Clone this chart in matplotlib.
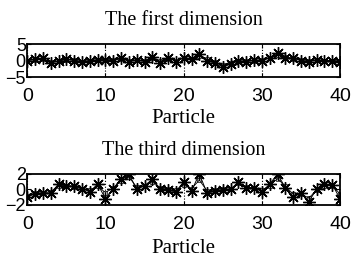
import matplotlib.pyplot as plt

particles = list(range(41))

# first dimension: star series and square series
dim1_star = [0, 0.5, 0.7, -0.8, 0, 0.5, 0, -0.5, 0, 0.2, 0.2, 0, 0.7, -0.3, 0.2, -0.3,
             1.2, -0.6, 0.9, -0.3, 0.9, 0.5, 2.0, 0, -0.8, -1.9, -1.1, 0, -0.3, 0.2,
             0, 0.9, 2.3, 0.9, 0.7, 0, -0.3, 0.2, 0, 0, -0.3]
dim1_sq = [0, 0.3, 0.5, -0.5, -0.2, 0.3, 0.2, -0.3, 0, 0.2, 0.3, 0.2, 0.5, 0, 0.2, 0,
           0.8, -0.2, 0.6, 0, 0.7, 0.6, 1.3, 0.4, -0.5, -1.3, -0.8, -0.2, -0.2, 0,
           0.2, 0.7, 1.6, 1.0, 0.6, 0.2, 0, 0.2, 0, 0, -0.2]

# third dimension
dim3_star = [-1.0, -0.55, -0.5, -0.5, 0.7, 0.5, 0.4, 0.1, -0.3, 0.7, -1.2, 0.1, 1.4, 2.0,
             0, 0.5, 1.3, 0.1, -0.1, -0.3, 1.0, -0.2, 2.0, -0.5, -0.2, -0.1, 0, 1.0,
             0.2, 0.2, -0.3, 0.7, 2.0, 0.2, -1.0, -0.5, -1.6, 0.1, 0.7, 0.6, -1.2]
dim3_sq = [-0.8, -0.5, -0.4, -0.3, 0.5, 0.5, 0.3, 0.1, -0.1, 0.4, -0.4, 0.2, 1.1, 1.6,
           0.3, 0.5, 1.0, 0.2, 0, -0.1, 0.6, 0.1, 1.2, -0.2, -0.1, 0, 0.1, 0.8,
           0.3, 0.2, -0.1, 0.5, 1.4, 0.4, -0.6, -0.6, -1.1, -0.1, 0.5, 0.5, -0.6]

plt.rcParams['font.family'] = 'Liberation Sans'
fig = plt.figure(figsize=(3.63, 2.62), dpi=100)

panels = [
    ([0.075, 0.706, 0.862, 0.126], dim1_star, dim1_sq, 5, "The first dimension", 3),
    ([0.075, 0.218, 0.862, 0.118], dim3_star, dim3_sq, 2, "The third dimension", 4),
]

for pos, ys, yq, lim, title, lpad in panels:
    ax = fig.add_axes(pos)
    ax.plot(particles, yq, color='black', lw=0.6, marker='s', ms=3,
            mfc='none', mew=0.5)
    ax.plot(particles, ys, color='black', lw=0.7, marker=(8, 2, 0), ms=9, mew=1.0)
    ax.set_xlim(0, 40)
    ax.set_ylim(-lim, lim)
    ax.set_xticks([0, 10, 20, 30, 40])
    ax.set_yticks([-lim, 0, lim])
    ax.tick_params(direction='in', top=True, right=True, length=3)
    ax.tick_params(axis='x', labelsize=14, pad=8)
    ax.tick_params(axis='y', labelsize=13, pad=1)
    ax.xaxis.grid(True, linestyle=':', color='black', lw=0.8)
    for s in ax.spines.values():
        s.set_linewidth(1.3)
    ax.set_title(title, family='Liberation Serif', fontsize=14.5, pad=14)
    ax.set_xlabel("Particle", family='Liberation Serif', fontsize=15, labelpad=lpad)

plt.savefig("out.png", dpi=100)
